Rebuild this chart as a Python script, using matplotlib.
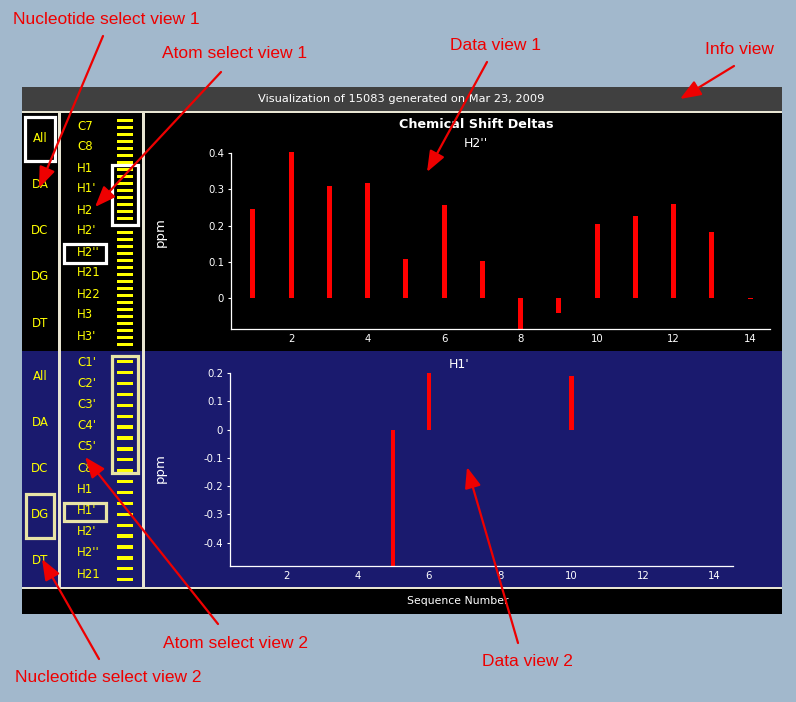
import matplotlib
matplotlib.use('Agg')
import matplotlib.pyplot as plt
from matplotlib.patches import Rectangle

# data
seq = [1, 2, 3, 4, 5, 6, 7, 8, 9, 10, 11, 12, 13, 14]
h2pp = [0.246, 0.404, 0.31, 0.318, 0.108, 0.257, 0.103, -0.09, -0.04, 0.205, 0.227, 0.26, 0.183, -0.003]
h1p_seq = [5, 6, 10]
h1p = [-0.55, 0.21, 0.188]

top_yticks = [0, 0.1, 0.2, 0.3, 0.4]
top_ylabels = ['0', '0.1', '0.2', '0.3', '0.4']
bot_yticks = [-0.4, -0.3, -0.2, -0.1, 0, 0.1, 0.2]
bot_ylabels = ['-0.4', '-0.3', '-0.2', '-0.1', '0', '0.1', '0.2']
xticks = [2, 4, 6, 8, 10, 12, 14]

nucleotides = ['All', 'DA', 'DC', 'DG', 'DT']
top_atoms = ["C7", "C8", "H1", "H1'", "H2", "H2'", "H2''", "H21", "H22", "H3", "H3'"]
bot_atoms = ["C1'", "C2'", "C3'", "C4'", "C5'", "C8", "H1", "H1'", "H2'", "H2''", "H21"]

info_text = 'Visualization of 15083 generated on Mar 23, 2009'

W, H = 796, 702
bg = '#a2b8cc'
navy = '#1a1a6e'
cream = '#e8e5d2'
khaki = '#e8e4a6'
ui_font = 'DejaVu Sans'

fig = plt.figure(figsize=(W / 100, H / 100), dpi=100)
fig.patch.set_facecolor(bg)

# background layer in pixel coordinates
ax_bg = fig.add_axes([0, 0, 1, 1], zorder=0)
ax_bg.set_xlim(0, W)
ax_bg.set_ylim(H, 0)
ax_bg.axis('off')


def rect(ax, x0, y0, x1, y1, **kw):
    ax.add_patch(Rectangle((x0, y0), x1 - x0, y1 - y0, **kw))


rect(ax_bg, 22, 87, 782, 111, color='#404040', lw=0)
rect(ax_bg, 22, 111, 782, 113, color=cream, lw=0)
rect(ax_bg, 22, 113, 782, 351, color='black', lw=0)
rect(ax_bg, 22, 351, 782, 587, color=navy, lw=0)
rect(ax_bg, 22, 587, 782, 589, color=cream, lw=0)
rect(ax_bg, 22, 589, 782, 614, color='black', lw=0)
rect(ax_bg, 58, 111, 61, 589, color=cream, lw=0)
rect(ax_bg, 142, 111, 145, 589, color=cream, lw=0)

ax_bg.text(401, 98.5, info_text, color='white', fontsize=8.2, family=ui_font,
           ha='center', va='center')
ax_bg.text(458, 601, 'Sequence Number', color='white', fontsize=7.8, family=ui_font,
           ha='center', va='center')

# nucleotide lists
for i, n in enumerate(nucleotides):
    ax_bg.text(40, 138 + 46.3 * i, n, color='yellow', fontsize=8.5, family=ui_font,
               ha='center', va='center')
    ax_bg.text(40, 376 + 46.1 * i, n, color='yellow', fontsize=8.5, family=ui_font,
               ha='center', va='center')

# atom lists
for i, a in enumerate(top_atoms):
    ax_bg.text(77, 126 + 21 * i, a, color='yellow', fontsize=8.5, family=ui_font,
               ha='left', va='center')
for i, a in enumerate(bot_atoms):
    ax_bg.text(77, 362 + 21.2 * i, a, color='yellow', fontsize=8.5, family=ui_font,
               ha='left', va='center')

# scroll stripes
for i in range(33):
    y = 119 + 7 * i
    rect(ax_bg, 117, y, 133, y + 2.7, color='yellow', lw=0)
for i in range(21):
    y = 360 + 10.9 * i
    rect(ax_bg, 117, y, 133, y + 3.3, color='yellow', lw=0)

# selection boxes
rect(ax_bg, 25, 117, 55, 161, fill=False, ec='white', lw=2.3)
rect(ax_bg, 64, 244, 106, 263, fill=False, ec='white', lw=2.3)
rect(ax_bg, 112, 165, 138, 225, fill=False, ec='white', lw=2.3)
rect(ax_bg, 26, 494, 54, 538, fill=False, ec=khaki, lw=2.3)
rect(ax_bg, 64, 503, 106, 521, fill=False, ec=khaki, lw=2.3)
rect(ax_bg, 112, 356, 138, 473, fill=False, ec=khaki, lw=2.3)

ax_bg.text(476, 124, 'Chemical Shift Deltas', color='white', fontsize=9.2,
           fontweight='bold', family=ui_font, ha='center', va='center')
ax_bg.text(476, 143.5, "H2''", color='white', fontsize=9, family=ui_font,
           ha='center', va='center')
ax_bg.text(459, 365, "H1'", color='white', fontsize=9, family=ui_font,
           ha='center', va='center')
ax_bg.text(160, 232, 'ppm', color='white', fontsize=9.5, family=ui_font,
           rotation=90, ha='center', va='center')
ax_bg.text(160, 468, 'ppm', color='white', fontsize=9.5, family=ui_font,
           rotation=90, ha='center', va='center')


def data_axes(left, right, top, bottom):
    return fig.add_axes([left / W, 1 - bottom / H, (right - left) / W, (bottom - top) / H],
                        zorder=1)


def style(ax, yticks, ylabels, ymin, ymax):
    ax.set_facecolor('none')
    ax.set_xlim(0.43, 14.52)
    ax.set_ylim(ymin, ymax)
    ax.set_xticks(xticks)
    ax.set_xticklabels([str(t) for t in xticks])
    ax.set_yticks(yticks)
    ax.set_yticklabels(ylabels)
    for s in ['top', 'right']:
        ax.spines[s].set_visible(False)
    for s in ['left', 'bottom']:
        ax.spines[s].set_color('white')
        ax.spines[s].set_linewidth(0.9)
    ax.tick_params(axis='y', colors='white', length=2.5, width=0.8, pad=2.5, labelsize=7.3)
    ax.tick_params(axis='x', colors='white', length=0, pad=3.5, labelsize=7.3)
    for lab in ax.get_xticklabels() + ax.get_yticklabels():
        lab.set_family(ui_font)


ax1 = data_axes(231, 770, 151, 329)
ax1.bar(seq, h2pp, width=0.13, color='#ff0000')
style(ax1, top_yticks, top_ylabels, -0.085, 0.4055)
ax1.spines['left'].set_bounds(-0.085, 0.4)

ax2 = data_axes(230, 733, 373, 566)
ax2.bar(h1p_seq, h1p, width=0.12, color='#ff0000')
style(ax2, bot_yticks, bot_ylabels, -0.483, 0.2)

# annotation overlay
ax_an = fig.add_axes([0, 0, 1, 1], zorder=5)
ax_an.set_xlim(0, W)
ax_an.set_ylim(H, 0)
ax_an.axis('off')
ax_an.patch.set_alpha(0)

red = '#ee0000'
labels = [
    ('Nucleotide select view 1', 13, 19, (103, 36), (39, 188)),
    ('Atom select view 1', 162, 54, (221, 72), (95, 207)),
    ('Data view 1', 450, 46, (487, 62), (427, 172)),
    ('Info view', 705, 49, (734, 66), (680, 99)),
    ('Nucleotide select view 2', 15, 677, (99, 659), (42, 559)),
    ('Atom select view 2', 163, 643, (218, 624), (85, 457)),
    ('Data view 2', 482, 661, (518, 643), (467, 467)),
]
for txt, tx, ty, start, tip in labels:
    ax_an.text(tx, ty, txt, color=red, fontsize=12.5, family='Liberation Sans',
               ha='left', va='center')
    ax_an.annotate('', xy=tip, xytext=start,
                   arrowprops=dict(arrowstyle='-|>,head_length=0.9,head_width=0.35',
                                   color=red, lw=1.6, mutation_scale=14,
                                   shrinkA=0, shrinkB=0))

fig.savefig('out.png', dpi=100, facecolor=fig.get_facecolor())
